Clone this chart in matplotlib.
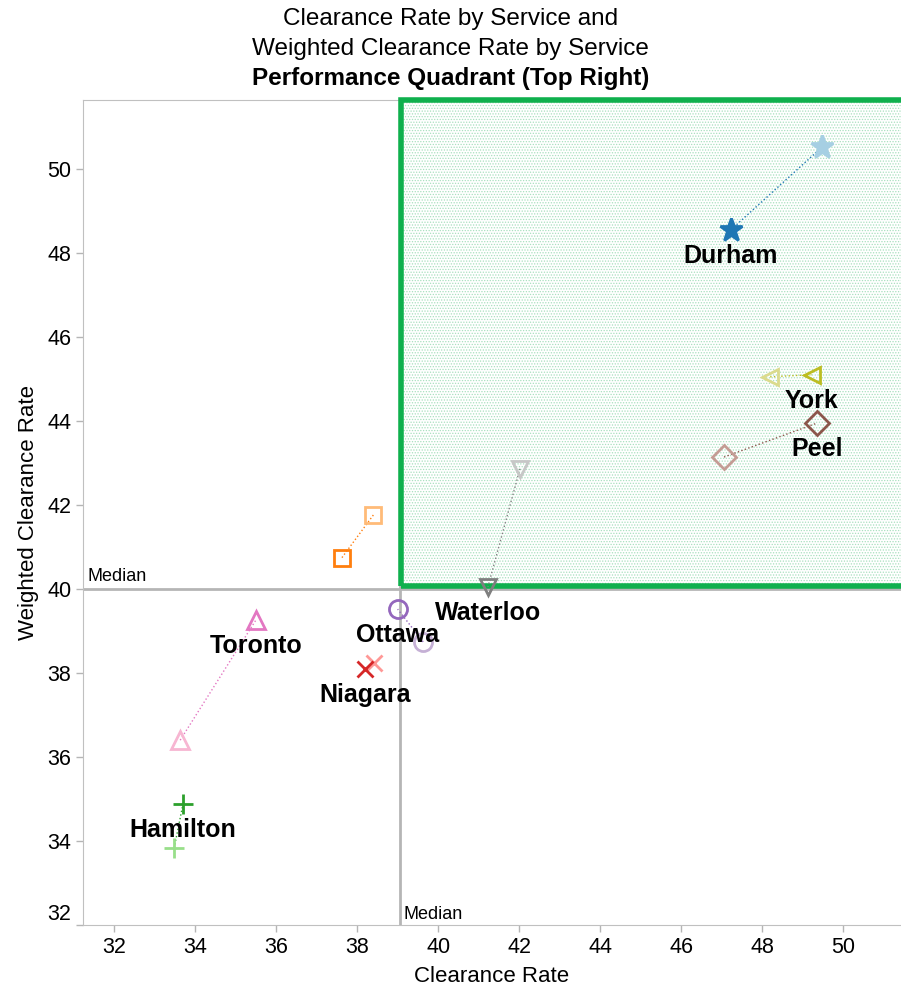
import matplotlib.pyplot as plt
from matplotlib.patches import Rectangle
from matplotlib.transforms import ScaledTranslation

plt.rcParams["font.family"] = ["Liberation Sans", "DejaVu Sans"]
plt.rcParams["hatch.linewidth"] = 0.6

# services: previous (light) and current (dark) positions
services = ["Durham", "York", "Peel", "Waterloo", "", "Ottawa", "Niagara", "Toronto", "Hamilton"]
rate_prev = [49.48, 48.20, 47.06, 42.02, 38.40, 39.63, 38.42, 33.63, 33.48]
weighted_prev = [50.52, 45.05, 43.14, 42.86, 41.76, 38.74, 38.24, 36.40, 33.83]
rate_now = [47.23, 49.22, 49.36, 41.23, 37.62, 39.00, 38.20, 35.50, 33.70]
weighted_now = [48.55, 45.10, 43.95, 40.05, 40.74, 39.52, 38.10, 39.26, 34.88]

markers = ["*", "<", "D", "v", "s", "o", "x", "^", "+"]
dark = ["#1f77b4", "#bcbd22", "#8c564b", "#7f7f7f", "#ff7f0e", "#9467bd", "#d62728", "#e377c2", "#2ca02c"]
light = ["#a6cfe3", "#dbdb8d", "#c49c94", "#c7c7c7", "#ffbb78", "#c5b0d5", "#ff9896", "#f7b6d2", "#98df8a"]
msizes = [17, 12, 12, 12, 12, 13, 12, 13, 14]

median_rate = 39.05
median_weighted = 40.0

x_lo, x_hi = 31.23, 51.43
y_lo, y_hi = 32.0, 51.64

fig = plt.figure(figsize=(9.01, 9.91), dpi=100)
ax = fig.add_axes([83 / 901, 66 / 991, 818 / 901, 825 / 991])
ax.set_xlim(x_lo, x_hi)
ax.set_ylim(y_lo, y_hi)

# performance quadrant
ax.add_patch(Rectangle((median_rate, median_weighted), x_hi - median_rate, y_hi - median_weighted,
                       facecolor="white", edgecolor="#a8e0be", hatch="......", linewidth=0, zorder=0))

ax.axhline(median_weighted, color="#b5b5b5", lw=2, zorder=1)
ax.axvline(median_rate, color="#b5b5b5", lw=2, zorder=1)
ax.add_patch(Rectangle((median_rate + 0.03, median_weighted + 0.07),
                       x_hi - median_rate + 2, y_hi - median_weighted - 0.07,
                       fill=False, edgecolor="#0fb04d", linewidth=4, zorder=2.6, clip_on=False))

ax.text(31.35, median_weighted + 0.1, "Median", fontsize=13, va="bottom", ha="left")
ax.text(median_rate + 0.1, 32.05, "Median", fontsize=13, va="bottom", ha="left")

for i, name in enumerate(services):
    ax.plot([rate_prev[i], rate_now[i]], [weighted_prev[i], weighted_now[i]],
            ls=":", lw=1, color=dark[i], zorder=3)
    filled = markers[i] == "*"
    for x, y, c in [(rate_prev[i], weighted_prev[i], light[i]), (rate_now[i], weighted_now[i], dark[i])]:
        ax.plot(x, y, marker=markers[i], ms=msizes[i], color=c,
                mfc=c if filled else "none", mec=c, mew=2, zorder=4)
    if name:
        ax.annotate(name, (rate_now[i], weighted_now[i]), xytext=(0, -26),
                    textcoords="offset pixels", ha="center", va="center",
                    fontsize=18, fontweight="bold", zorder=5)

ax.set_xticks(range(32, 51, 2))
ax.set_yticks(range(32, 51, 2))
ax.tick_params(labelsize=15.5, color="#b5b5b5", length=5, width=1)
for s in ["left", "bottom", "top"]:
    ax.spines[s].set_color("#c0c0c0")
ax.spines["right"].set_visible(False)

# first y label nudged up like the original
lab = ax.get_yticklabels()[0]
lab.set_transform(lab.get_transform() + ScaledTranslation(0, 0.13, fig.dpi_scale_trans))

ax.set_xlabel("Clearance Rate", fontsize=16, labelpad=6)
ax.set_ylabel("Weighted Clearance Rate", fontsize=16, labelpad=6)

fig.text(0.5, 0.981, "Clearance Rate by Service and", ha="center", va="center", fontsize=17.5)
fig.text(0.5, 0.951, "Weighted Clearance Rate by Service", ha="center", va="center", fontsize=17.5)
fig.text(0.5, 0.921, "Performance Quadrant (Top Right)", ha="center", va="center",
         fontsize=17.5, fontweight="bold")

fig.savefig("out.png", dpi=100)
